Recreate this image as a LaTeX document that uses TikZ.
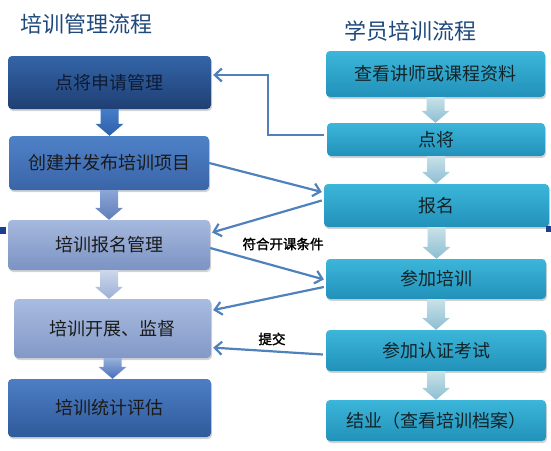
\documentclass[tikz,border=0pt]{standalone}
\usepackage{fontspec}
\usepackage{xcolor}
\usepackage{tikz}
\usetikzlibrary{calc,arrows.meta,shadows}
\newfontfamily\cjk{Noto Sans CJK SC}
\newfontfamily\cjkbold[FakeBold=2]{Noto Sans CJK SC}
\definecolor{titleblue}{HTML}{1F497D}
\definecolor{linkblue}{HTML}{4F81BD}
\definecolor{boxtext}{HTML}{1A1A1A}
\definecolor{learntop}{RGB}{60,182,218}
\definecolor{learnbot}{RGB}{34,145,185}

% block arrow between two stacked boxes
\newcommand{\flowarrow}[3]{%
  \path[#3] let \p1=(#1.south), \p2=(#2.north) in
    (\x1-9pt,\y1) -- (\x1+9pt,\y1) -- (\x1+9pt,\y2+12pt) -- (\x1+14pt,\y2+12pt)
    -- (\x1,\y2) -- (\x1-14pt,\y2+12pt) -- (\x1-9pt,\y2+12pt) -- cycle;}

\begin{document}
\begin{tikzpicture}[x=1pt,y=-1pt,
    box/.style={rounded corners=4pt,shading=axis,font=\cjk\fontsize{18}{20}\selectfont,
      text=boxtext,drop shadow={opacity=0.35,shadow xshift=1pt,shadow yshift=-2pt}},
    learn/.style={box,top color=learntop,bottom color=learnbot,
      minimum width=220pt,text={rgb,255:red,20;green,35;blue,40}},
    link/.style={draw=linkblue,line width=2.2pt,-{Straight Barb[length=7pt,width=13pt]},
      shorten >=2pt},
    tag/.style={font=\cjkbold\fontsize{13.5}{15}\selectfont,text=black}]
    \useasboundingbox (0,0) rectangle (551,450);

    % titles
    \node[font=\cjk\fontsize{22}{24}\selectfont,text=titleblue] (t1) at (86,24) {培训管理流程};
    \node[font=\cjk\fontsize{22}{24}\selectfont,text=titleblue] (t2) at (410,31) {学员培训流程};

    % management side
    \node[box,top color={rgb,255:red,52;green,101;blue,168},bottom color={rgb,255:red,31;green,63;blue,115},
      minimum width=203pt,minimum height=53pt,text={rgb,255:red,13;green,27;blue,51}] (b1) at (109.5,82.5) {点将申请管理};
    \node[box,top color={rgb,255:red,79;green,129;blue,199},bottom color={rgb,255:red,58;green,101;blue,168},
      minimum width=200pt,minimum height=54pt] (b2) at (109,163) {创建并发布培训项目};
    \node[box,top color={rgb,255:red,166;green,185;blue,222},bottom color={rgb,255:red,123;green,147;blue,195},
      minimum width=202pt,minimum height=50pt] (b3) at (109,245) {培训报名管理};
    \node[box,top color={rgb,255:red,169;green,188;blue,224},bottom color={rgb,255:red,130;green,152;blue,198},
      minimum width=197pt,minimum height=59pt] (b4) at (112.5,328.5) {培训开展、监督};
    \node[box,top color={rgb,255:red,77;green,126;blue,196},bottom color={rgb,255:red,47;green,90;blue,155},
      minimum width=203pt,minimum height=58pt] (b5) at (109.5,408) {培训统计评估};

    % learner side
    \node[learn,minimum width=219pt,minimum height=46pt] (r1) at (435.5,74) {查看讲师或课程资料};
    \node[learn,minimum width=218pt,minimum height=33pt] (r2) at (436,139.5) {点将};
    \node[learn,minimum width=225pt,minimum height=43pt] (r3) at (436.5,205.5) {报名};
    \node[learn,minimum height=40pt] (r4) at (436,279) {参加培训};
    \node[learn,minimum height=41pt] (r5) at (436,350.5) {参加认证考试};
    \node[learn,minimum height=41pt] (r6) at (436,420.5) {结业（查看培训档案）};

    % block arrows
    \flowarrow{b1}{b2}{top color={rgb,255:red,70;green,125;blue,200},bottom color={rgb,255:red,45;green,95;blue,170}}
    \flowarrow{b2}{b3}{top color={rgb,255:red,140;green,165;blue,215},bottom color={rgb,255:red,95;green,125;blue,185}}
    \flowarrow{b3}{b4}{top color={rgb,255:red,205;green,215;blue,235},bottom color={rgb,255:red,155;green,175;blue,215}}
    \flowarrow{b4}{b5}{top color={rgb,255:red,150;green,175;blue,220},bottom color={rgb,255:red,70;green,110;blue,185}}
    \flowarrow{r1}{r2}{top color={rgb,255:red,200;green,225;blue,232},bottom color={rgb,255:red,140;green,190;blue,210}}
    \flowarrow{r2}{r3}{top color={rgb,255:red,200;green,225;blue,232},bottom color={rgb,255:red,140;green,190;blue,210}}
    \flowarrow{r3}{r4}{top color={rgb,255:red,200;green,225;blue,232},bottom color={rgb,255:red,140;green,190;blue,210}}
    \flowarrow{r4}{r5}{top color={rgb,255:red,200;green,225;blue,232},bottom color={rgb,255:red,140;green,190;blue,210}}
    \flowarrow{r5}{r6}{top color={rgb,255:red,200;green,225;blue,232},bottom color={rgb,255:red,140;green,190;blue,210}}

    % connectors
    \coordinate (k1) at (268,75);
    \draw[link] ($(r2.west)+(-3,-4.5)$) -| (k1) -- (k1 -| b1.east);
    \draw[link] ($(b2.east)+(0,0)$) -- ($(r3.west)+(0,-13)$);
    \draw[link] ($(r3.west)+(-2,-5)$) -- ($(b3.east)+(0,-12)$);
    \draw[link] ($(b3.east)+(0,3)$) -- ($(r4.west)+(0,1)$);
    \draw[link] ($(r4.west)+(-2,8)$) -- ($(b4.east)+(0,-18)$);
    \draw[link] ($(r5.west)+(-3,4)$) -- ($(b4.east)+(0,19)$);
    \node[tag] (c1) at (283,244) {符合开课条件};
    \node[tag] (c2) at (272,339) {提交};

    % edge marks
    \fill[titleblue!85!blue] (0,227) rectangle (6,234);
    \fill[titleblue!85!blue] (546,226) rectangle (551,232);
\end{tikzpicture}
\end{document}
